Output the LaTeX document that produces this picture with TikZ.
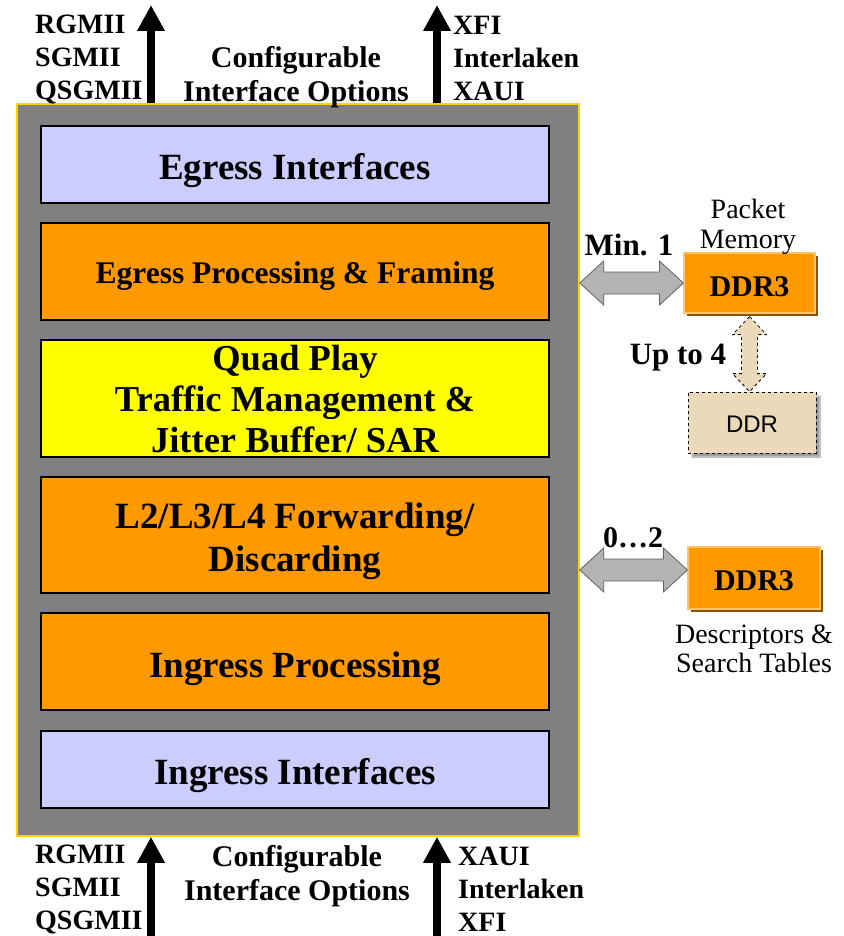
\documentclass[tikz,border=0pt]{standalone}
\usepackage{fontspec}
\setmainfont{Liberation Serif}
\newfontfamily\sansddr{Liberation Sans}
\usetikzlibrary{arrows.meta,shadows,shadows.blur,calc}
\definecolor{boxgray}{HTML}{808080}
\definecolor{rimyellow}{HTML}{FFD200}
\definecolor{lav}{HTML}{CCCCFF}
\definecolor{orng}{HTML}{FF9900}
\definecolor{yel}{HTML}{FFFF00}
\definecolor{tanbox}{HTML}{EADABA}
\definecolor{arrgray}{HTML}{B3B3B3}
\tikzset{
  layer/.style={draw=black, line width=1.2pt, minimum width=508pt, inner sep=0pt},
  layertext/.style={inner sep=0pt, align=center, font=\bfseries\fontsize{37}{42}\selectfont},
  lbl/.style={font=\bfseries\fontsize{28}{33}\selectfont, inner sep=0pt, align=left},
  lblc/.style={font=\bfseries\fontsize{30}{34}\selectfont, inner sep=0pt, align=center},
  plain/.style={font=\fontsize{28}{29.5}\selectfont, inner sep=0pt, align=center},
  ddrbox/.style={fill=orng, draw=orng!60!white, line width=1.2pt, minimum width=131pt, minimum height=60pt,
    drop shadow={shadow xshift=3pt, shadow yshift=-3pt, fill=orng!55!black, opacity=1}},
  ddrtext/.style={inner sep=0pt, font=\bfseries\fontsize{30}{34}\selectfont},
  bigarrow/.style={line width=8pt, -{Triangle[width=26pt,length=26pt]}, black},
  blockarr/.style={fill=arrgray, draw=gray!75!black, line width=0.8pt},
}
\begin{document}
\begin{tikzpicture}[x=1pt,y=-1pt]
\useasboundingbox (0,0) rectangle (843,936);
% outer chip
\node[draw=rimyellow, line width=1.5pt, fill=boxgray, minimum width=562pt, minimum height=732pt, inner sep=0pt] (chip) at (298,470) {};
% layers
\node[layer, fill=lav, minimum height=77pt] (egI) at (295,164.5) {};
\node[layer, fill=orng, minimum height=97pt] (egP) at (295,271.5) {};
\node[layer, fill=yel, minimum height=117pt] (qp) at (295,398.5) {};
\node[layer, fill=orng, minimum height=116pt] (fwd) at (295,535) {};
\node[layer, fill=orng, minimum height=97pt] (inP) at (295,661.5) {};
\node[layer, fill=lav, minimum height=77pt] (inI) at (295,769.5) {};
\node[layertext] (egIt) at ($(egI.center)+(0,6)$) {Egress Interfaces};
\node[layertext, font=\bfseries\fontsize{31.5}{36}\selectfont] (egPt) at ($(egP.center)+(0,5)$) {Egress Processing \& Framing};
\node[layertext, font=\bfseries\fontsize{36.5}{41}\selectfont] (qpt) at ($(qp.center)+(0,1)$) {Quad Play\\Traffic Management \&\\Jitter Buffer/ SAR};
\node[layertext, font=\bfseries\fontsize{37}{43}\selectfont] (fwdt) at ($(fwd.center)+(0,6)$) {L2/L3/L4 Forwarding/\\Discarding};
\node[layertext] (inPt) at ($(inP.center)+(0,7)$) {Ingress Processing};
\node[layertext] (inIt) at ($(inI.center)+(0,6)$) {Ingress Interfaces};
% top interface arrows
\coordinate (ta) at (151,5);
\coordinate (tb) at (437,5);
\draw[bigarrow] (chip.north -| ta) -- (ta);
\draw[bigarrow] (chip.north -| tb) -- (tb);
% bottom interface arrows
\coordinate (ba) at (151,936);
\coordinate (bb) at (437,936);
\draw[bigarrow] (ba) -- (chip.south -| ba);
\draw[bigarrow] (bb) -- (chip.south -| bb);
% top labels
\node[lbl, anchor=west] (tl) at (35,60) {RGMII\\SGMII\\QSGMII};
\node[lblc] (tm) at (296,77) {Configurable\\Interface Options};
\node[lbl, anchor=west] (tr) at (453,58) {XFI\\Interlaken\\XAUI};
% bottom labels
\node[lbl, anchor=west] (bl) at (35,889) {RGMII\\SGMII\\QSGMII};
\node[lblc] (bm) at (297,876) {Configurable\\Interface Options};
\node[lbl, anchor=west] (br) at (458,889) {XAUI\\Interlaken\\XFI};
% memories
\node[ddrbox] (ddrA) at (749.5,283) {};
\node[ddrtext] (ddrAt) at ($(ddrA.center)+(0,4)$) {DDR3};
\node[fill=tanbox, draw=black, dashed, line width=0.8pt, minimum width=128pt, minimum height=61pt,
  blur shadow={shadow xshift=4pt, shadow yshift=-4pt, shadow blur steps=6}] (ddrB) at (752,422.5) {};
\node[inner sep=0pt, font=\sansddr\fontsize{24}{28}\selectfont] (ddrBt) at ($(ddrB.center)+(0,2)$) {DDR};
\node[ddrbox, minimum width=132pt, minimum height=62pt] (ddrC) at (754,578) {};
\node[ddrtext] (ddrCt) at ($(ddrC.center)+(0,3)$) {DDR3};
% right labels
\node[plain] (pm) at (748,227) {Packet\\Memory};
\node[lblc, font=\bfseries\fontsize{31}{34}\selectfont] (min1) at (629,245) {Min. 1};
\node[lblc, font=\bfseries\fontsize{31}{34}\selectfont] (up4) at (678,358) {Up to 4};
\node[lblc, font=\bfseries\fontsize{30}{34}\selectfont] (z2) at (633,538) {0\ldots2};
\node[plain] (dst) at (754,649) {Descriptors \&\\Search Tables};
% gray block arrow 1
\coordinate (r1) at (ddrA.west);
\coordinate (l1) at (chip.east |- r1);
\path[blockarr] (l1) -- ++(24,-22) -- ++(0,11) -- ($(r1)+(-24,-11)$) -- ++(0,-11) -- (r1)
  -- ++(-24,22) -- ++(0,-11) -- ($(l1)+(24,11)$) -- ++(0,11) -- cycle;
% gray block arrow 2
\path (ddrC.west) ++(0,-8) coordinate (r2);
\coordinate (l2) at (chip.east |- r2);
\path[blockarr] (l2) -- ++(24,-22) -- ++(0,11) -- ($(r2)+(-24,-11)$) -- ++(0,-11) -- (r2)
  -- ++(-24,22) -- ++(0,-11) -- ($(l2)+(24,11)$) -- ++(0,11) -- cycle;
% dashed vertical arrow
\coordinate (t3) at ($(ddrA.south)+(0,3)$);
\coordinate (b3) at (t3 |- ddrB.north);
\filldraw[fill=tanbox, draw=black, dashed, line width=0.8pt] (t3) -- ++(17,18) -- ++(-9,0) -- ($(b3)+(8,-18)$) -- ++(9,0) -- (b3)
  -- ++(-17,-18) -- ++(9,0) -- ($(t3)+(-8,18)$) -- ++(-9,0) -- cycle;
\end{tikzpicture}
\end{document}
